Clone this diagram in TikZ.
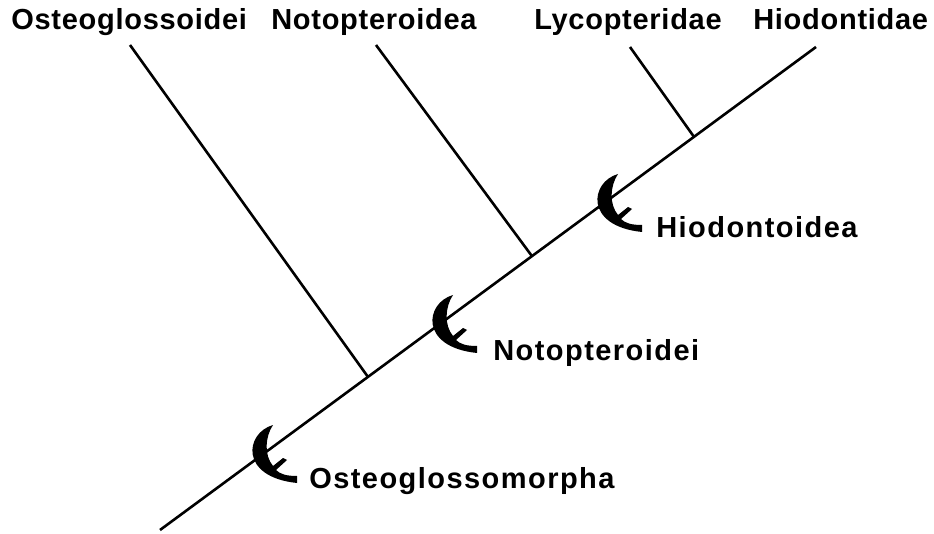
\documentclass[tikz,border=0pt]{standalone}
\usepackage{fontspec}
\setmainfont{Liberation Sans}[LetterSpace=5]
\newfontfamily\topfont{Liberation Sans}[LetterSpace=2.5]
\usetikzlibrary{calc}
\begin{document}
\begin{tikzpicture}[x=1pt,y=-1pt,line width=2.6pt,
  lab/.style={font=\fontsize{29}{29}\selectfont\bfseries,anchor=base west,inner sep=0pt},
  toplab/.style={font=\fontsize{29}{29}\topfont\bfseries,anchor=base west,inner sep=0pt},
  crescent/.pic={\fill (0,0) .. controls (-28,8) and (-34,52) .. (24,58) -- (24,51)
      .. controls (13,51) and (7,49) .. (3,45) -- (14,35) -- (10,33) -- (0,41)
      .. controls (-9,30) and (-8,12) .. (0,0) -- cycle;}]
\useasboundingbox[fill=white] (0,0) rectangle (934,534);
% top labels
\node[toplab] (osteoid) at (10,30) {Osteoglossoidei};
\node[toplab] (notoa) at (270,30) {Notopteroidea};
\node[toplab] (lyco) at (533,30) {Lycopteridae};
\node[toplab] (hiodid) at (752,30) {Hiodontidae};
% clade labels
\node[lab] (hiodoid) at (655,238) {Hiodontoidea};
\node[lab] (notoi) at (492,360) {Notopteroidei};
\node[lab] (osteom) at (308,488) {Osteoglossomorpha};
% tree
\coordinate (root) at (160,530);
\coordinate (tip) at (816,47);
\coordinate (b1) at ($(root)!0.317!(tip)$);
\coordinate (b2) at ($(root)!0.567!(tip)$);
\coordinate (b3) at ($(root)!0.814!(tip)$);
\coordinate (u1) at (130,45);
\coordinate (u2) at (376,45);
\coordinate (u3) at (630,47);
\draw (root) -- (tip);
\draw (u1) -- (b1);
\draw (u2) -- (b2);
\draw (u3) -- (b3);
% synapomorphy crescents
\pic at (273,425) {crescent};
\pic at (453,295) {crescent};
\pic at (618,174) {crescent};
\end{tikzpicture}
\end{document}
